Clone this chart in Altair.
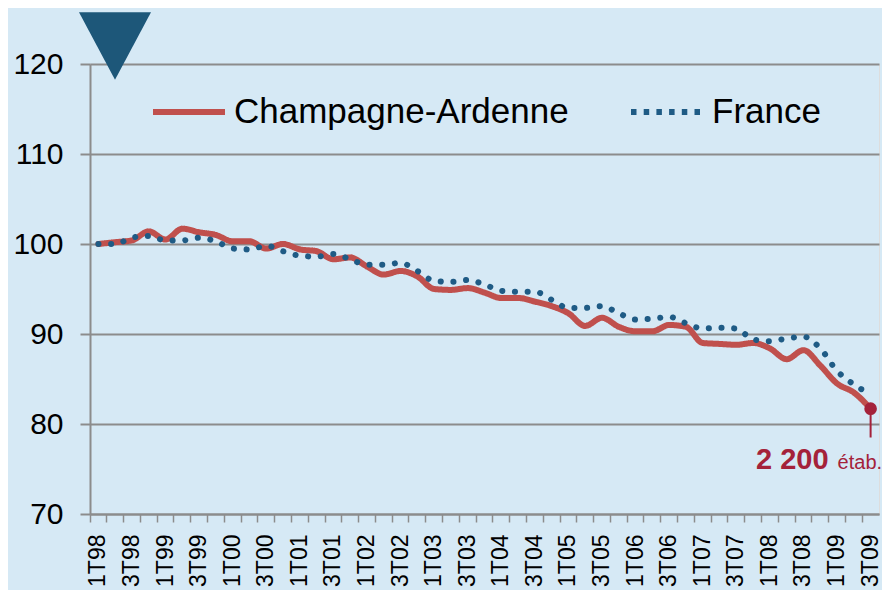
import altair as alt
import pandas as pd

years = ["98", "99", "00", "01", "02", "03", "04", "05", "06", "07", "08", "09"]
quarters = [f"{q}T{yy}" for yy in years for q in range(1, 5)][:47]

series_names = ["Champagne-Ardenne", "France"]

champagne = [100.0, 100.2, 100.4, 101.4, 100.5, 101.7, 101.3, 101.0, 100.3, 100.3,
             99.5, 100.0, 99.4, 99.2, 98.3, 98.5, 97.5, 96.6, 97.0, 96.4,
             95.0, 94.9, 95.1, 94.6, 94.0, 94.0, 93.6, 93.1, 92.3, 90.9,
             91.8, 90.8, 90.3, 90.3, 91.0, 90.8, 89.0, 88.9, 88.8, 89.0,
             88.4, 87.2, 88.2, 86.5, 84.5, 83.5, 81.7]

france = [100.0, 100.0, 100.7, 100.9, 100.4, 100.4, 100.7, 100.3, 99.5, 99.4,
          99.8, 99.2, 98.7, 98.6, 98.9, 98.3, 97.7, 97.7, 97.9, 97.0,
          95.9, 95.8, 96.0, 95.5, 94.8, 94.7, 94.7, 93.8, 92.9, 92.9,
          93.1, 92.3, 91.6, 91.7, 91.9, 91.2, 90.6, 90.7, 90.6, 89.4,
          89.2, 89.5, 89.7, 88.4, 85.9, 84.4, 83.3]

y_ticks = [70, 80, 90, 100, 110, 120]
end_label = "2 200"
end_unit = "étab."

RED = "#c0504d"
BLUE = "#1f5b85"
DARK = "#1d5779"
ANNOT = "#a4223a"
GRID = "#8c8c8c"
BG = "#d6e9f5"
FONT = "Liberation Sans"

champ_df = pd.DataFrame({"trimestre": quarters, "indice": champagne, "zone": series_names[0]})
france_df = pd.DataFrame({"trimestre": quarters, "indice": france, "zone": series_names[1]})

end_df = pd.DataFrame({
    "trimestre": [quarters[-1]],
    "indice": [champagne[-1]],
    "stem": [champagne[-1] - 3.2],
    "label": [end_label],
    "unit": [end_unit],
})

x_enc = alt.X(
    "trimestre:N",
    sort=quarters,
    bandPosition=0.5,
    scale=alt.Scale(type="band", paddingInner=0, paddingOuter=0),
    axis=alt.Axis(
        title=None, bandPosition=0, labelAngle=270, labelFontSize=23, labelFont=FONT,
        labelColor="black", labelPadding=12, tickSize=8, tickColor=GRID, tickWidth=1.5,
        domainColor=GRID, domainWidth=2, grid=False, labelOverlap=False, labelFlush=False,
        labelExpr="(substring(datum.label,0,1) == '1' || substring(datum.label,0,1) == '3') ? datum.label : ''",
    ),
)
x_plain = alt.X("trimestre:N", sort=quarters, bandPosition=0.5)

y_enc = alt.Y(
    "indice:Q",
    scale=alt.Scale(domain=[70, 120], nice=False, zero=False),
    axis=alt.Axis(
        title=None, values=y_ticks, labelFontSize=30, labelFont=FONT, labelColor="black",
        labelPadding=17, tickSize=10, tickColor=GRID, tickWidth=2, gridColor=GRID,
        gridWidth=2, domainColor=GRID, domainWidth=2,
    ),
)

legend = alt.Legend(
    orient="none", legendX=60, legendY=9, direction="horizontal", title=None,
    labelFontSize=35, labelFont=FONT, labelColor="black", labelLimit=800, symbolType="stroke",
    symbolSize=5184, symbolStrokeWidth=6, labelOffset=6, columnPadding=50, padding=0,
)

# Champagne-Ardenne line; its scales carry both series so the legend lists both
champ_line = alt.Chart(champ_df).mark_line(strokeWidth=6, strokeCap="round", interpolate="monotone").encode(
    x=x_enc,
    y=y_enc,
    color=alt.Color("zone:N", scale=alt.Scale(domain=series_names, range=[RED, BLUE]), legend=legend),
    strokeDash=alt.StrokeDash("zone:N", scale=alt.Scale(domain=series_names, range=[[1, 0], [5.5, 7.2]]), legend=legend),
)

# France dotted line (round dots)
france_line = alt.Chart(france_df).mark_line(
    strokeWidth=6, strokeCap="round", interpolate="monotone", color=BLUE, strokeDash=[0.1, 12.6],
).encode(x=x_plain, y="indice:Q")

stem = alt.Chart(end_df).mark_rule(color=ANNOT, strokeWidth=2).encode(
    x=x_plain, y="indice:Q", y2="stem:Q",
)

dot = alt.Chart(end_df).mark_circle(size=160, color=ANNOT, opacity=1).encode(
    x=x_plain, y="indice:Q",
)

num_text = alt.Chart(end_df).mark_text(
    align="right", baseline="alphabetic", dx=-42, dy=60, fontSize=29, fontWeight="bold",
    font=FONT, color=ANNOT,
).encode(x=x_plain, y="indice:Q", text="label:N")

unit_text = alt.Chart(end_df).mark_text(
    align="left", baseline="alphabetic", dx=-33, dy=60, fontSize=20,
    font=FONT, color=ANNOT,
).encode(x=x_plain, y="indice:Q", text="unit:N")

triangle = alt.Chart(alt.Data(values=[{"k": 1}])).mark_point(
    shape="M-1,-0.94L1,-0.94L0,0.94Z", filled=True, size=5184, color=DARK, opacity=1,
).encode(x=alt.value(25), y=alt.value(-18))

chart = alt.layer(champ_line, france_line, stem, dot, num_text, unit_text, triangle).properties(
    width=789, height=450,
    padding={"left": 82, "top": 56, "right": 3, "bottom": 76},
    autosize=alt.AutoSizeParams(type="none"),
    background=BG,
).configure_view(stroke=None).configure(font=FONT)

chart.save("out.html", embed_options={"renderer": "svg", "actions": False})
